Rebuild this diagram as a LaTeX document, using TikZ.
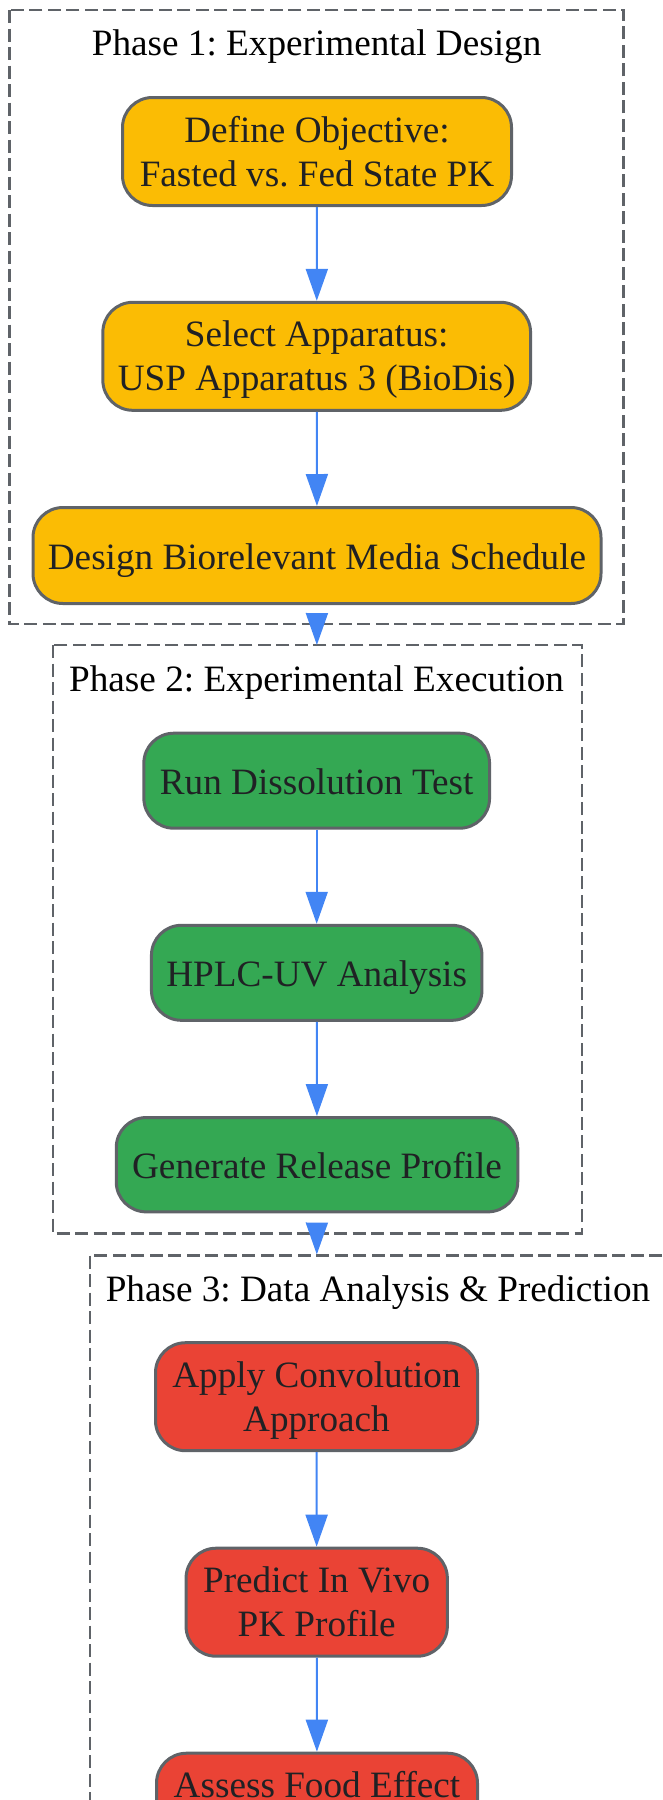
\documentclass[tikz,border=0pt]{standalone}
\usepackage{fontspec}
\setmainfont{Liberation Serif}
\usetikzlibrary{arrows.meta}
\definecolor{cyellow}{HTML}{FBBC04}
\definecolor{cgreen}{HTML}{34A853}
\definecolor{cred}{HTML}{EA4335}
\definecolor{cblue}{HTML}{4285F4}
\definecolor{cborder}{HTML}{5F6368}
\definecolor{ctext}{HTML}{202124}
\frenchspacing
\begin{document}
\begin{tikzpicture}[x=1pt,y=-1pt,
  box/.style={draw=cborder, line width=3pt, rounded corners=30pt, inner sep=0pt,
    font=\fontsize{37.2}{44}\selectfont\frenchspacing, text=ctext, align=center},
  oneline/.style={text height=30pt, text depth=3pt},
  twoline/.style={text height=72pt, text depth=3pt},
  firstonly/.style={text height=0pt, text depth=19pt},
  cluster/.style={draw=cborder, line width=2.6pt, dash pattern=on 13pt off 5.5pt},
  title/.style={font=\fontsize{37.2}{44}\selectfont\frenchspacing, text=black, anchor=base, inner sep=0pt},
  flow/.style={draw=cblue, line width=2pt, -{Triangle[length=32pt,width=22pt]}}]
\useasboundingbox (0,0) rectangle (662,1800);
\clip (0,0) rectangle (662,1800);
% clusters
\draw[cluster] (9.3,10) rectangle (623.6,624);
\draw[cluster] (52.8,645) rectangle (581.8,1233.3);
\draw[cluster] (90,1255.7) rectangle (666,1900);
% titles
\node[title] (t1) at (316.6,55) {Phase 1: Experimental Design};
\node[title] (t2) at (316.6,691.7) {Phase 2: Experimental Execution};
\node[title] (t3) at (378,1301.7) {Phase 3: Data Analysis \& Prediction};
% nodes
\node[box, twoline, fill=cyellow, minimum width=389pt, minimum height=108pt] (n1) at (317,151.5) {Define Objective:\\Fasted vs. Fed State PK};
\node[box, twoline, fill=cyellow, minimum width=427.7pt, minimum height=108pt] (n2) at (316.7,356.3) {Select Apparatus:\\USP Apparatus 3 (BioDis)};
\node[box, oneline, fill=cyellow, minimum width=568pt, minimum height=96pt] (n3) at (317,555.5) {Design Biorelevant Media Schedule};
\node[box, oneline, fill=cgreen, minimum width=345.7pt, minimum height=95pt] (n4) at (316.7,780.7) {Run Dissolution Test};
\node[box, oneline, fill=cgreen, minimum width=330.5pt, minimum height=95pt] (n5) at (316.7,972.8) {HPLC-UV Analysis};
\node[box, oneline, fill=cgreen, minimum width=401.5pt, minimum height=94.3pt] (n6) at (317,1164.7) {Generate Release Profile};
\node[box, twoline, fill=cred, minimum width=322pt, minimum height=108pt] (n7) at (316.5,1396.7) {Apply Convolution\\Approach};
\node[box, twoline, fill=cred, minimum width=261.3pt, minimum height=108pt] (n8) at (316.7,1602.2) {Predict In Vivo\\PK Profile};
\node[box, firstonly, fill=cred, minimum width=321pt, minimum height=108pt] (n9) at (317,1807.2) {Assess Food Effect};
% connectors
\draw[flow] (n1) -- (n2);
\draw[flow] (n2) -- (n3);
\draw[flow, shorten <=9pt, shorten >=86.7pt] (n3) -- (n4);
\draw[flow] (n4) -- (n5);
\draw[flow] (n5) -- (n6);
\draw[flow, shorten <=10pt, shorten >=86.7pt] (n6) -- (n7);
\draw[flow] (n7) -- (n8);
\draw[flow] (n8) -- (n9);
\end{tikzpicture}
\end{document}
